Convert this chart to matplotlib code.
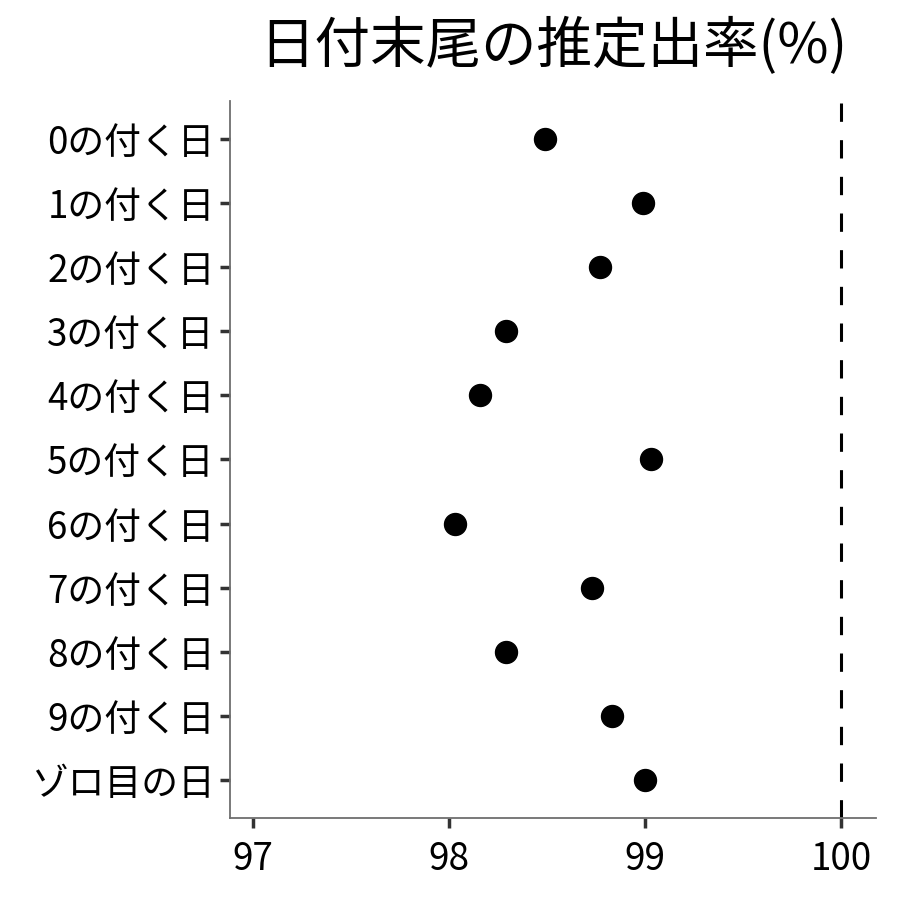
import matplotlib
matplotlib.use('Agg')
import matplotlib.pyplot as plt

plt.rcParams['font.family'] = ['Noto Sans CJK JP', 'DejaVu Sans']

# 日付末尾ごとの推定出率
labels = ['0の付く日', '1の付く日', '2の付く日', '3の付く日', '4の付く日',
          '5の付く日', '6の付く日', '7の付く日', '8の付く日', '9の付く日', 'ゾロ目の日']
rates = [98.49, 98.99, 98.77, 98.29, 98.16, 99.03, 98.03, 98.73, 98.29, 98.83, 99.00]

fig = plt.figure(figsize=(9, 9), dpi=100)
ax = fig.add_axes([0.2556, 0.0911, 0.7177, 0.7967])

ypos = list(range(len(labels)))[::-1]
ax.scatter(rates, ypos, s=250, color='black', zorder=3)
ax.axvline(100, color='black', linestyle=(0, (6, 6)), linewidth=2.2)

ax.set_xlim(96.883, 100.179)
ax.set_ylim(-0.6, len(labels) - 0.4)
ax.set_xticks([97, 98, 99, 100])
ax.set_yticks(ypos)
ax.set_yticklabels(labels)

ax.tick_params(axis='both', labelsize=26.5, length=7, width=2.5, color='#333333',
               labelcolor='black', pad=4)
ax.tick_params(axis='x', pad=9)
for side in ['top', 'right']:
    ax.spines[side].set_visible(False)
for side in ['left', 'bottom']:
    ax.spines[side].set_color('#6e6e6e')
    ax.spines[side].set_linewidth(1.3)

ax.set_title('日付末尾の推定出率(%)', fontsize=40, pad=27)

fig.savefig('out.png', dpi=100)
